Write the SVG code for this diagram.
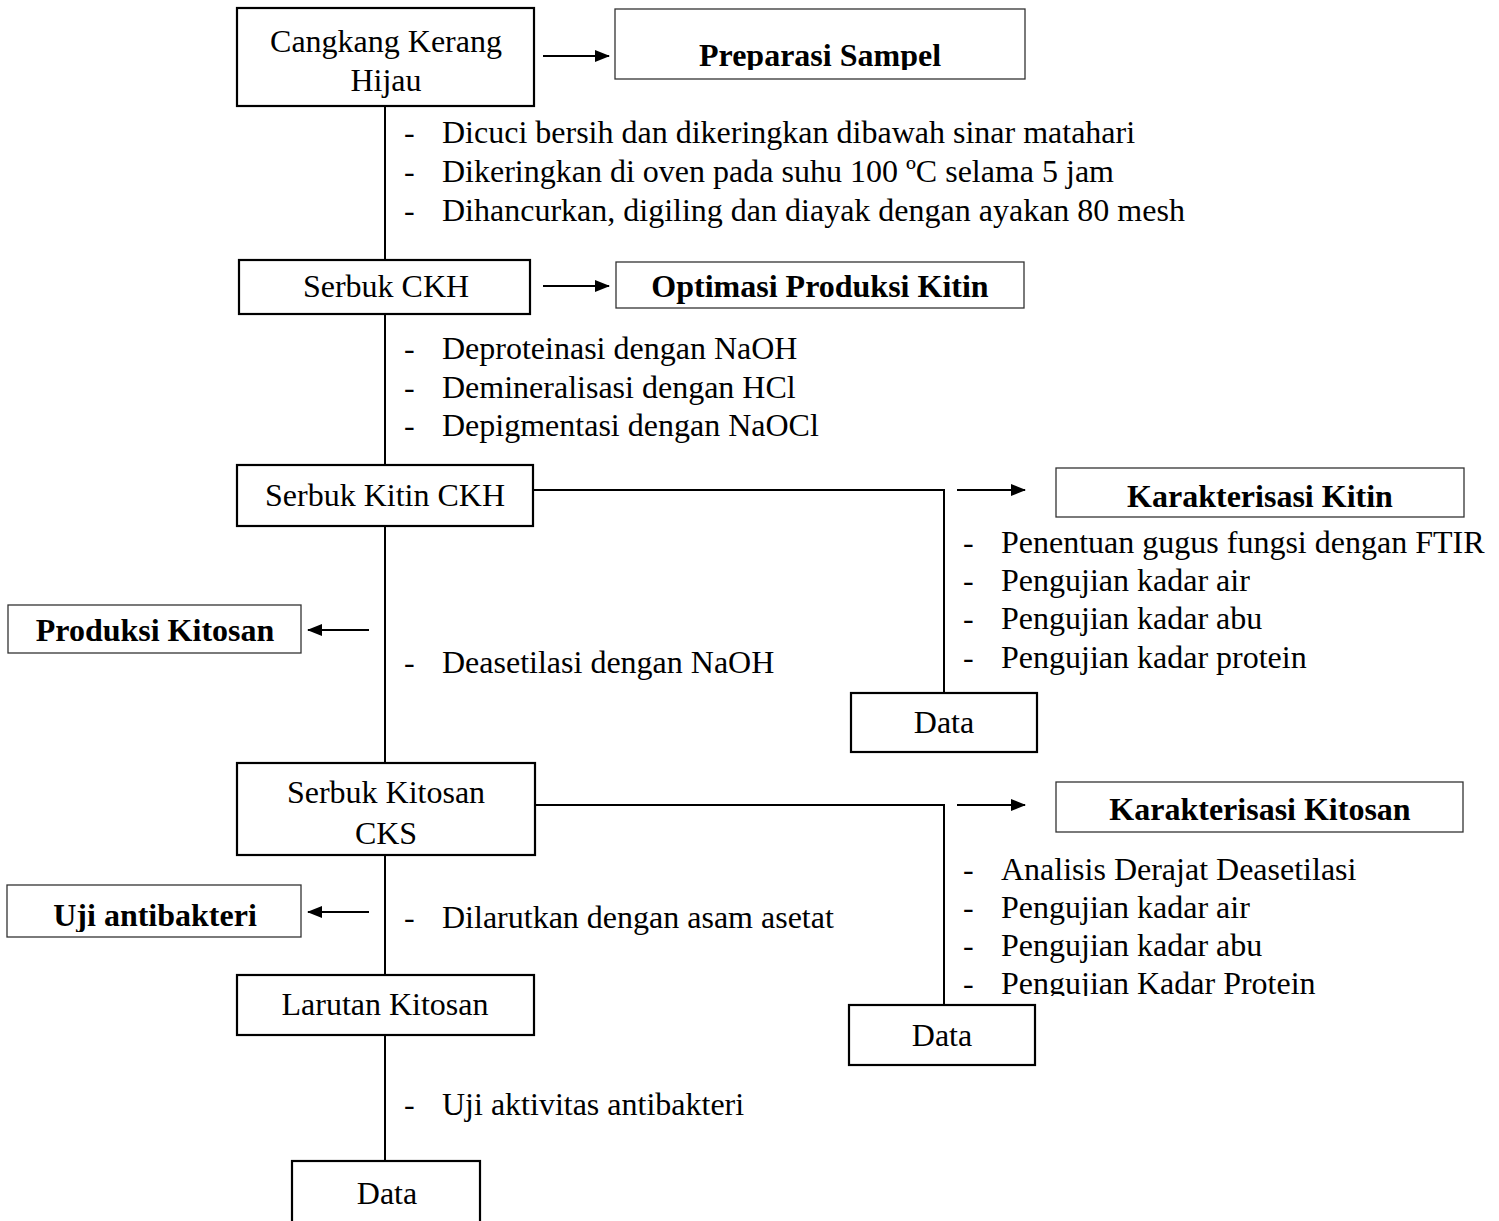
<svg xmlns="http://www.w3.org/2000/svg" width="1499" height="1221" viewBox="0 0 1499 1221">
<style>
.box{fill:#fff;stroke:#000;stroke-width:2.2}
.lbl{fill:#fff;stroke:#333;stroke-width:1.3}
.t{font-family:"Liberation Serif","Times New Roman",serif;font-size:32px;fill:#000}
.b{font-family:"Liberation Serif","Times New Roman",serif;font-size:32px;font-weight:bold;fill:#000}
.c{text-anchor:middle}
.ln{fill:none;stroke:#000;stroke-width:2}
</style>
<defs>
<marker id="ah" markerWidth="15" markerHeight="12" refX="14" refY="6" orient="auto" markerUnits="userSpaceOnUse">
<path d="M0,0 L15,6 L0,12 Z" fill="#000"/>
</marker>
<clipPath id="cp1"><rect x="600" y="0" width="450" height="70"/></clipPath>
<clipPath id="cp2"><rect x="0" y="880" width="310" height="52"/></clipPath>
<clipPath id="cp3"><rect x="950" y="960" width="500" height="36"/></clipPath>
</defs>
<rect width="1499" height="1221" fill="#fff"/>
<g id="connectors">
<line class="ln" x1="385" y1="106" x2="385" y2="260"/>
<line class="ln" x1="385" y1="314" x2="385" y2="465"/>
<line class="ln" x1="385" y1="526" x2="385" y2="763"/>
<line class="ln" x1="385" y1="855" x2="385" y2="975"/>
<line class="ln" x1="385" y1="1035" x2="385" y2="1161"/>
<polyline class="ln" points="533,490 944,490 944,693"/>
<polyline class="ln" points="535,805 944,805 944,1005"/>
<line class="ln" x1="543" y1="56" x2="609" y2="56" marker-end="url(#ah)"/>
<line class="ln" x1="543" y1="286" x2="609" y2="286" marker-end="url(#ah)"/>
<line class="ln" x1="957" y1="490" x2="1025" y2="490" marker-end="url(#ah)"/>
<line class="ln" x1="957" y1="805" x2="1025" y2="805" marker-end="url(#ah)"/>
<line class="ln" x1="369" y1="630" x2="308" y2="630" marker-end="url(#ah)"/>
<line class="ln" x1="369" y1="912" x2="308" y2="912" marker-end="url(#ah)"/>
</g>
<g id="n-cangkang"><rect class="box" x="237" y="8" width="297" height="98"/>
<text class="t c" x="386" y="52">Cangkang Kerang</text><text class="t c" x="386" y="91">Hijau</text></g>
<g id="n-preparasi"><rect class="lbl" x="615" y="9" width="410" height="70"/>
<text class="b c" x="820" y="66" clip-path="url(#cp1)">Preparasi Sampel</text></g>
<g id="steps1">
<text class="t" x="404" y="143">-</text><text class="t" x="442" y="143">Dicuci bersih dan dikeringkan dibawah sinar matahari</text>
<text class="t" x="404" y="182">-</text><text class="t" x="442" y="182">Dikeringkan di oven pada suhu 100 ºC selama 5 jam</text>
<text class="t" x="404" y="221">-</text><text class="t" x="442" y="221">Dihancurkan, digiling dan diayak dengan ayakan 80 mesh</text>
</g>
<g id="n-serbukckh"><rect class="box" x="239" y="260" width="291" height="54"/>
<text class="t c" x="386" y="297">Serbuk CKH</text></g>
<g id="n-optimasi"><rect class="lbl" x="616" y="262" width="408" height="46"/>
<text class="b c" x="820" y="297">Optimasi Produksi Kitin</text></g>
<g id="steps2">
<text class="t" x="404" y="359">-</text><text class="t" x="442" y="359">Deproteinasi dengan NaOH</text>
<text class="t" x="404" y="398">-</text><text class="t" x="442" y="398">Demineralisasi dengan HCl</text>
<text class="t" x="404" y="436">-</text><text class="t" x="442" y="436">Depigmentasi dengan NaOCl</text>
</g>
<g id="n-kitin"><rect class="box" x="237" y="465" width="296" height="61"/>
<text class="t c" x="385" y="506">Serbuk Kitin CKH</text></g>
<g id="n-karkitin"><rect class="lbl" x="1056" y="468" width="408" height="49"/>
<text class="b c" x="1260" y="507">Karakterisasi Kitin</text></g>
<g id="steps-kitin">
<text class="t" x="963" y="553">-</text><text class="t" x="1001" y="553">Penentuan gugus fungsi dengan FTIR</text>
<text class="t" x="963" y="591">-</text><text class="t" x="1001" y="591">Pengujian kadar air</text>
<text class="t" x="963" y="629">-</text><text class="t" x="1001" y="629">Pengujian kadar abu</text>
<text class="t" x="963" y="668">-</text><text class="t" x="1001" y="668">Pengujian kadar protein</text>
</g>
<g id="n-data1"><rect class="box" x="851" y="693" width="186" height="59"/>
<text class="t c" x="944" y="733">Data</text></g>
<g id="n-produksi"><rect class="lbl" x="8" y="605" width="293" height="48"/>
<text class="b c" x="155" y="641">Produksi Kitosan</text></g>
<g id="steps3"><text class="t" x="404" y="673">-</text><text class="t" x="442" y="673">Deasetilasi dengan NaOH</text></g>
<g id="n-kitosan"><rect class="box" x="237" y="763" width="298" height="92"/>
<text class="t c" x="386" y="803">Serbuk Kitosan</text><text class="t c" x="386" y="844">CKS</text></g>
<g id="n-karkitosan"><rect class="lbl" x="1056" y="782" width="407" height="50"/>
<text class="b c" x="1260" y="820">Karakterisasi Kitosan</text></g>
<g id="steps-kitosan">
<text class="t" x="963" y="880">-</text><text class="t" x="1001" y="880">Analisis Derajat Deasetilasi</text>
<text class="t" x="963" y="918">-</text><text class="t" x="1001" y="918">Pengujian kadar air</text>
<text class="t" x="963" y="956">-</text><text class="t" x="1001" y="956">Pengujian kadar abu</text>
<text class="t" x="963" y="994">-</text><text class="t" x="1001" y="994" clip-path="url(#cp3)">Pengujian Kadar Protein</text>
</g>
<g id="n-data2"><rect class="box" x="849" y="1005" width="186" height="60"/>
<text class="t c" x="942" y="1046">Data</text></g>
<g id="n-uji"><rect class="lbl" x="7" y="885" width="294" height="52"/>
<text class="b c" x="155" y="926" clip-path="url(#cp2)">Uji antibakteri</text></g>
<g id="steps4"><text class="t" x="404" y="928">-</text><text class="t" x="442" y="928">Dilarutkan dengan asam asetat</text></g>
<g id="n-larutan"><rect class="box" x="237" y="975" width="297" height="60"/>
<text class="t c" x="385" y="1015">Larutan Kitosan</text></g>
<g id="steps5"><text class="t" x="404" y="1115">-</text><text class="t" x="442" y="1115">Uji aktivitas antibakteri</text></g>
<g id="n-data3"><rect class="box" x="292" y="1161" width="188" height="70"/>
<text class="t c" x="387" y="1204">Data</text></g>
</svg>
